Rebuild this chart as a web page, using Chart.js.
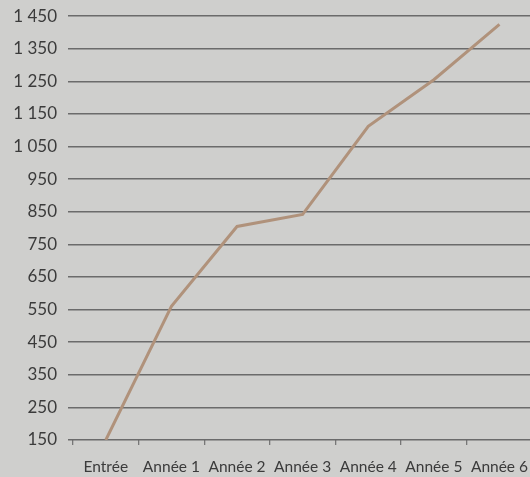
<!DOCTYPE html>
<html lang="fr">
<head>
<meta charset="utf-8">
<script src="https://cdn.jsdelivr.net/npm/chart.js@4"></script>
<style>
    html, body { margin: 0; padding: 0; background: #cfcfcd; overflow: hidden; }
    #wrap { width: 541px; height: 482px; margin-top: -5px; }
</style>
</head>
<body>
<div id="wrap"><canvas id="chart"></canvas></div>
<script>
// effectifs par année
var categories = ['Entrée', 'Année 1', 'Année 2', 'Année 3', 'Année 4', 'Année 5', 'Année 6'];
var values = [150, 560, 805, 842, 1112, 1255, 1425];
var yTicks = [150, 250, 350, 450, 550, 650, 750, 850, 950, 1050, 1150, 1250, 1350, 1450];

function formatNumber(v) {
    // espace comme séparateur des milliers
    return String(v).replace(/\B(?=(\d{3})+(?!\d))/g, ' ');
}

var ctx = document.getElementById('chart');
new Chart(ctx, {
    type: 'line',
    data: {
        labels: categories,
        datasets: [{
            data: values,
            borderColor: '#b0927b',
            borderWidth: 3,
            pointRadius: 0,
            tension: 0,
            fill: false
        }]
    },
    options: {
        responsive: true,
        maintainAspectRatio: false,
        animation: false,
        layout: { padding: { top: 15, right: 0, left: 0, bottom: 0 } },
        plugins: {
            legend: { display: false },
            tooltip: { enabled: false }
        },
        scales: {
            x: {
                offset: true,
                border: { display: false },
                grid: {
                    offset: true,
                    drawOnChartArea: false,
                    tickLength: 5,
                    color: '#777',
                    lineWidth: 1.3
                },
                ticks: {
                    color: '#3b3b3b',
                    font: { family: 'Lato', size: 15.5 },
                    padding: 13,
                    maxRotation: 0,
                    autoSkip: false
                },
                afterFit: function (scale) { scale.height = 37; }
            },
            y: {
                min: 150,
                max: 1450,
                border: { display: false },
                grid: {
                    color: '#6b6b6b',
                    lineWidth: 1.5,
                    tickLength: 5
                },
                afterBuildTicks: function (scale) {
                    scale.ticks = yTicks.map(function (v) { return { value: v }; });
                },
                ticks: {
                    color: '#3b3b3b',
                    font: { family: 'Lato', size: 17 },
                    padding: 11,
                    callback: function (v) { return formatNumber(v); }
                },
                afterFit: function (scale) { scale.width = 73; }
            }
        }
    }
});
</script>
</body>
</html>
